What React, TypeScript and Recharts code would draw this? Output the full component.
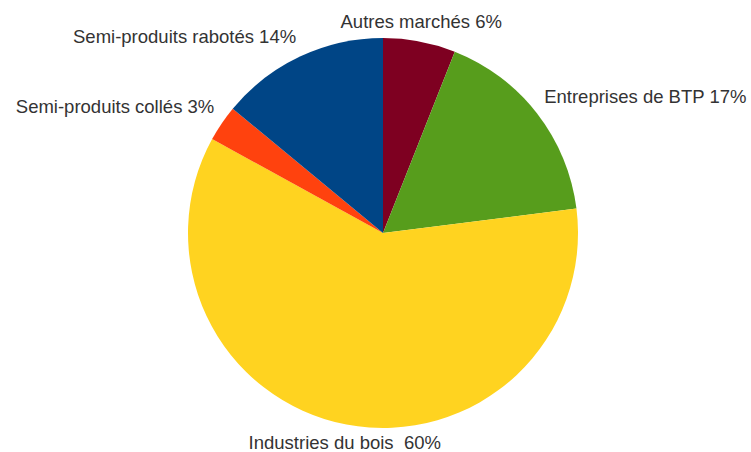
import { PieChart, Pie, Cell } from 'recharts';

// Slices, clockwise from 12 o'clock
const markets = [
  'Autres marchés',
  'Entreprises de BTP',
  'Industries du bois ',
  'Semi-produits collés',
  'Semi-produits rabotés',
];
const shares = [6, 17, 60, 3, 14];
const colors = ['#7e0021', '#579d1c', '#ffd320', '#ff420e', '#004586'];

const data = markets.map((name, i) => ({ name, value: shares[i] }));

const RADIAN = Math.PI / 180;

function renderLabel(props: any) {
  const { cx, cy, midAngle, outerRadius, name, value } = props;
  const r = outerRadius + 9;
  const cos = Math.cos(-midAngle * RADIAN);
  const sin = Math.sin(-midAngle * RADIAN);
  const x = cx + r * cos;
  const y = cy + r * sin;
  const anchor = Math.abs(cos) < 0.3 ? 'middle' : cos > 0 ? 'start' : 'end';
  const baseline = sin < -0.3 ? y - 5 : sin > 0.3 ? y + 16 : y + 5;
  return (
    <text
      x={x}
      y={baseline}
      textAnchor={anchor}
      fill="#333333"
      fontSize={18.5}
      fontFamily="'Liberation Sans', Arial, sans-serif"
      style={{ whiteSpace: 'pre' }}
    >
      {`${name} ${value}%`}
    </text>
  );
}

export default function App() {
  return (
    <div style={{ position: 'absolute', left: 0, top: 0, background: '#fff' }}>
      <PieChart width={751} height={452} margin={{ top: 0, right: 0, bottom: 0, left: 0 }}>
        <Pie
          data={data}
          dataKey="value"
          nameKey="name"
          cx={383}
          cy={233}
          outerRadius={195}
          startAngle={90}
          endAngle={-270}
          stroke="none"
          label={renderLabel}
          labelLine={false}
          isAnimationActive={false}
        >
          {data.map((d, i) => (
            <Cell key={d.name} fill={colors[i]} />
          ))}
        </Pie>
      </PieChart>
    </div>
  );
}
